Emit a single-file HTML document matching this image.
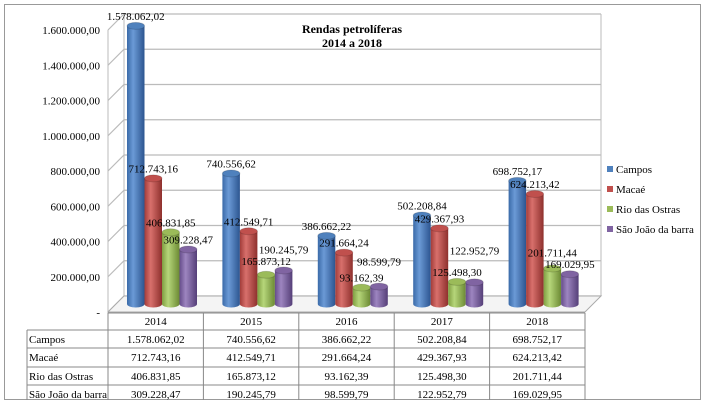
<!DOCTYPE html>
<html><head><meta charset="utf-8"><style>
body{margin:0;background:#fff}
svg{display:block;font-family:"Liberation Serif",serif}
</style></head><body>
<svg id="c" width="705" height="405" viewBox="0 0 705 405">
<defs>
<linearGradient id="g0" x1="0" x2="1"><stop offset="0" stop-color="#3a6aa8"/><stop offset="0.35" stop-color="#6b9ad6"/><stop offset="1" stop-color="#2c5590"/></linearGradient>
<linearGradient id="g1" x1="0" x2="1"><stop offset="0" stop-color="#a23c39"/><stop offset="0.35" stop-color="#d8706c"/><stop offset="1" stop-color="#8e302d"/></linearGradient>
<linearGradient id="g2" x1="0" x2="1"><stop offset="0" stop-color="#7f9e41"/><stop offset="0.35" stop-color="#b6d67a"/><stop offset="1" stop-color="#6c8a34"/></linearGradient>
<linearGradient id="g3" x1="0" x2="1"><stop offset="0" stop-color="#654c8a"/><stop offset="0.35" stop-color="#9d85c0"/><stop offset="1" stop-color="#553f78"/></linearGradient>
</defs>
<rect x="4.5" y="4.5" width="696" height="395" fill="#fff" stroke="#999"/>
<g id="grid"></g><g id="bars"></g><g id="labels"></g>
<text x="352" y="33" text-anchor="middle" font-size="12" font-weight="bold">Rendas petrolíferas</text>
<text x="352" y="47" text-anchor="middle" font-size="12" font-weight="bold">2014 a 2018</text>
<g id="legend"></g><g id="table"></g>
</svg>
<script>
const categories=["2014","2015","2016","2017","2018"];
const seriesNames=["Campos","Macaé","Rio das Ostras","São João da barra"];
const campos=[1578062.02,740556.62,386662.22,502208.84,698752.17];
const macae=[712743.16,412549.71,291664.24,429367.93,624213.42];
const rioOstras=[406831.85,165873.12,93162.39,125498.30,201711.44];
const saoJoao=[309228.47,190245.79,98599.79,122952.79,169029.95];
const yTicks=[0,200000,400000,600000,800000,1000000,1200000,1400000,1600000];
const series=[campos,macae,rioOstras,saoJoao];
const colors=["#4f81bd","#c0504d","#9bbb59","#8064a2"];
const labelShift={"1-2":-4,"1-3":-11,"2-3":-15,"3-3":-22,"4-2":-6};
const NS="http://www.w3.org/2000/svg";
function mk(t,a,p){const e=document.createElementNS(NS,t);for(const k in a)e.setAttribute(k,a[k]);p.appendChild(e);return e;}
function fmt(v){let [i,d]=v.toFixed(2).split(".");i=i.replace(/\B(?=(\d{3})+(?!\d))/g,".");return i+","+d;}
const X0=108,X1=585,DX=16,DY=-16,Y0=312,PER=35.25/200000;
const slot=(X1-X0)/categories.length;
function yFront(v){return Y0-v*PER;}
function yMid(v){return Y0+DY/2-v*PER;}
const grid=document.getElementById('grid');
yTicks.forEach(t=>{
  const yf=yFront(t);
  const l1=mk('polyline',{points:`${X0},${yf} ${X0+DX},${yf+DY} ${X1+DX},${yf+DY}`,fill:'none',stroke:'#bbb','stroke-width':1.2},grid);
  
  
  const tx=mk('text',{x:100,y:yf+4,'text-anchor':'end','font-size':11},grid);
  tx.textContent=t===0?'-':fmt(t);
  
  
});
mk('line',{x1:X0+DX,y1:Y0+DY,x2:X0+DX,y2:yFront(1600000)+DY,stroke:'#bbb'},grid);
mk('line',{x1:X1+DX,y1:Y0+DY,x2:X1+DX,y2:yFront(1600000)+DY,stroke:'#bbb'},grid);
mk('line',{x1:X0,y1:Y0,x2:X0,y2:yFront(1600000),stroke:'#bbb'},grid);
const fl=mk('polygon',{points:`${X0},${Y0} ${X0+DX},${Y0+DY} ${X1+DX},${Y0+DY} ${X1},${Y0}`,fill:'#f4f4f4',stroke:'#aaa'},grid);


const bars=document.getElementById('bars'),labels=document.getElementById('labels');
const bw=17.5;
categories.forEach((c,i)=>{
  series.forEach((s,j)=>{
    const x=X0+i*slot+19+j*bw, v=s[i], base=yMid(0), top=yMid(v), rx=bw/2, ry=3.5;
    const g=mk('g',{},bars);
    
    
    mk('path',{d:`M${x},${top} L${x},${base} A${rx},${ry} 0 0 0 ${x+bw},${base} L${x+bw},${top} Z`,fill:`url(#g${j})`},g);
    mk('ellipse',{cx:x+rx,cy:top,rx:rx,ry:ry,fill:colors[j],stroke:'rgba(0,0,0,0.15)'},g);
    const t=mk('text',{x:x+rx,y:top-6+(labelShift[i+'-'+j]||0),'text-anchor':'middle','font-size':11},labels);
    t.textContent=fmt(v);
    
    
  });
});
const lg=document.getElementById('legend');
seriesNames.forEach((n,j)=>{
  const y=173+j*20;
  const g=mk('g',{},lg);
  
  
  mk('rect',{x:607,y:y-7,width:6,height:6,fill:colors[j]},g);
  const t=mk('text',{x:616,y:y,'font-size':11},g);t.textContent=n;
});
const tb=document.getElementById('table');
const rowsY=[313,330,348,367,385,400];
const colX=[27,X0];for(let i=1;i<=5;i++)colX.push(X0+i*slot);
mk('line',{x1:X0,y1:313,x2:X1,y2:313,stroke:'#888'},tb);
for(let r=1;r<5;r++)mk('line',{x1:27,y1:rowsY[r],x2:X1,y2:rowsY[r],stroke:'#888'},tb);
for(let k=1;k<colX.length;k++)mk('line',{x1:colX[k],y1:313,x2:colX[k],y2:400,stroke:'#888'},tb);
mk('line',{x1:27,y1:330,x2:27,y2:400,stroke:'#888'},tb);
categories.forEach((c,i)=>{
  const t=mk('text',{x:X0+(i+0.5)*slot,y:325,'text-anchor':'middle','font-size':11},tb);t.textContent=c;
  
  
});
series.forEach((s,j)=>{
  const y=rowsY[j+1]+13;
  const a={x:29,y:y,'font-size':11};
  if(seriesNames[j].length>15){a.textLength=78;a.lengthAdjust='spacingAndGlyphs';}
  const n=mk('text',a,tb);n.textContent=seriesNames[j];
  
  
  s.forEach((v,i)=>{
    const t=mk('text',{x:X0+(i+0.5)*slot,y:y,'text-anchor':'middle','font-size':11},tb);t.textContent=fmt(v);
    
    
  });
});
</script>
</body></html>
